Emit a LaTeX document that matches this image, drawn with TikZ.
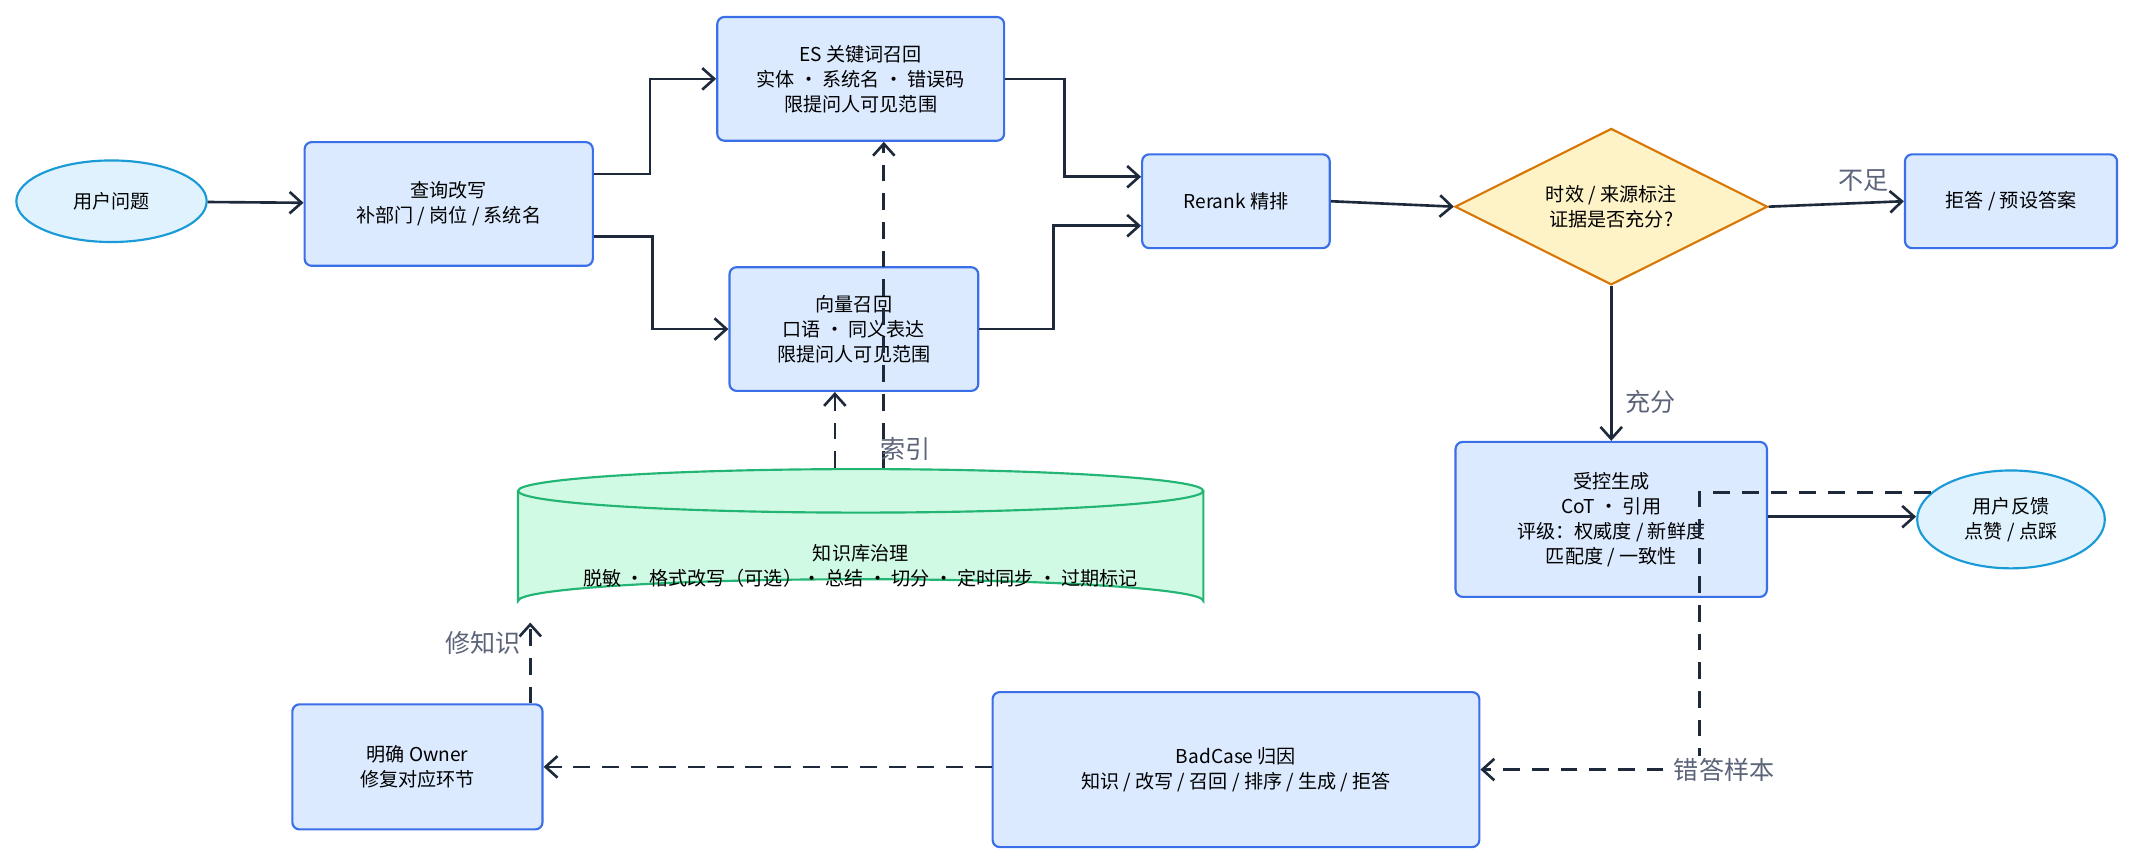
\documentclass[tikz,border=0pt]{standalone}
\usepackage{fontspec}
\setmainfont{Noto Sans CJK SC}
\usetikzlibrary{arrows.meta,shapes.geometric}
\definecolor{bfill}{HTML}{DBEAFE}\definecolor{bdraw}{HTML}{3B6FE8}
\definecolor{efill}{HTML}{E0F2FE}\definecolor{edraw}{HTML}{1A9BD8}
\definecolor{dfill}{HTML}{FEF3C7}\definecolor{ddraw}{HTML}{D97706}
\definecolor{cfill}{HTML}{D1FAE5}\definecolor{cdraw}{HTML}{22B573}
\definecolor{ink}{HTML}{1E293B}\definecolor{lab}{HTML}{5B6478}
\begin{document}
\begin{tikzpicture}[x=0.02cm,y=-0.02cm,font=\fontsize{8}{10.5}\selectfont,
 box/.style={draw=bdraw,fill=bfill,line width=0.9pt,rounded corners=3pt,align=center,inner sep=0pt},
 oval/.style={ellipse,draw=edraw,fill=efill,line width=0.9pt,align=center,inner sep=0pt},
 arr/.style={draw=ink,line width=1.1pt,-{Straight Barb[length=5pt,width=9pt]}},
 dsh/.style={arr,dash pattern=on 7pt off 5pt},
 lbl/.style={text=lab,font=\fontsize{10.5}{12}\selectfont}]
\useasboundingbox (0,0) rectangle (1568,635);
\node[oval,minimum width=140*0.02cm,minimum height=60*0.02cm] (q) at (82,148) {用户问题};
\node[box,minimum width=212*0.02cm,minimum height=91*0.02cm] (rw) at (330,150) {查询改写\\补部门 / 岗位 / 系统名};
\node[box,minimum width=211*0.02cm,minimum height=91*0.02cm] (es) at (633,58) {ES 关键词召回\\实体 · 系统名 · 错误码\\限提问人可见范围};
\node[box,minimum width=183*0.02cm,minimum height=91*0.02cm] (vec) at (628,242) {向量召回\\口语 · 同义表达\\限提问人可见范围};
\node[box,minimum width=138*0.02cm,minimum height=69*0.02cm] (rr) at (909,148) {Rerank 精排};
\node[diamond,draw=ddraw,fill=dfill,line width=0.9pt,aspect=2,minimum width=230*0.02cm,minimum height=115*0.02cm,inner sep=0pt,align=center] (dm) at (1185,152) {时效 / 来源标注\\证据是否充分?};
\node[box,minimum width=156*0.02cm,minimum height=69*0.02cm] (rej) at (1479,148) {拒答 / 预设答案};
\node[box,minimum width=229*0.02cm,minimum height=114*0.02cm] (gen) at (1185,382) {受控生成\\CoT · 引用\\评级：权威度 / 新鲜度\\匹配度 / 一致性};
\node[oval,minimum width=138*0.02cm,minimum height=72*0.02cm] (fb) at (1479,382) {用户反馈\\点赞 / 点踩};
\node[box,minimum width=358*0.02cm,minimum height=114*0.02cm] (bc) at (909,566) {BadCase 归因\\知识 / 改写 / 召回 / 排序 / 生成 / 拒答};
\node[box,minimum width=184*0.02cm,minimum height=92*0.02cm] (own) at (307,564) {明确 Owner\\修复对应环节};
% cylinder
\draw[draw=cdraw,fill=cfill,line width=0.9pt] (381,361) -- (381,442) arc[start angle=180,end angle=360,x radius=252,y radius=16] -- (885,361);
\draw[draw=cdraw,fill=cfill,line width=0.9pt] (633,361) ellipse[x radius=252,y radius=16];
\node[inner sep=0pt,minimum width=504*0.02cm,minimum height=113*0.02cm] (kb) at (633,401) {};
\node[align=center] at (633,416) {知识库治理\\脱敏 · 格式改写（可选）· 总结 · 切分 · 定时同步 · 过期标记};
\coordinate (fbl) at (1420,362);
% edges
\draw[arr] (q) -- (rw);
\draw[arr] (rw.east|-0,128) -- (478,128) |- (es.west);
\draw[arr] (rw.east|-0,174) -- (480,174) |- (vec.west);
\draw[arr] (es.east) -- (783,58) |- (rr.west|-0,130);
\draw[arr] (vec.east) -- (775,242) |- (rr.west|-0,166);
\draw[arr] (rr.east) -- (dm.west);
\draw[arr] (dm.east) -- (rej.west) node[lbl,pos=0.7,above=1pt] {不足};
\draw[arr] (dm.south) -- (gen.north) node[lbl,pos=0.75,right=2pt] {充分};
\draw[arr] (gen.east|-0,380) -- (fb.west|-0,380);
\draw[dsh] (kb.north-|614,0) -- (vec.south-|614,0);
\draw[dsh] (kb.north-|650,0) -- (es.south-|650,0);
\node[lbl] at (666,330) {索引};
\draw[dsh] (fbl) -- (1250,362) |- (bc.east);
\node[lbl,fill=white,inner sep=1pt] at (1268,566) {错答样本};
\draw[dsh] (bc.west|-0,564) -- (own.east);
\draw[dsh] (own.north-|390,0) -- (kb.south-|390,0);
\node[lbl] at (355,473) {修知识};
\end{tikzpicture}
\end{document}
